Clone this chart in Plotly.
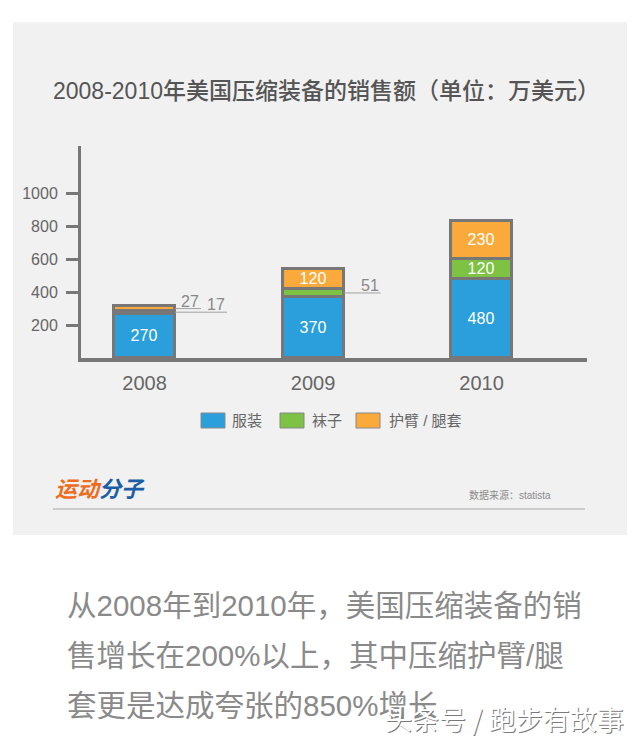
import plotly.graph_objects as go

# ---- data ----
years = ["2008", "2009", "2010"]
apparel = [270, 370, 480]        # 服装
socks = [17, 51, 120]            # 袜子
sleeves = [27, 120, 230]         # 护臂 / 腿套
series_names = ["服装", "袜子", "护臂 / 腿套"]
y_ticks = [200, 400, 600, 800, 1000]

W, H = 640, 743
FONT = "Liberation Sans, Noto Sans CJK SC"
BLUE, GREEN, ORANGE = "#2a9fdb", "#7dc242", "#f9aa3b"
EDGE = "#777777"

def px(x):
    return x / W

def py(y):
    return 1 - y / H

xpos = list(range(len(years)))
bw = 0.362

def lbl(vals, show):
    return [str(v) if s else "" for v, s in zip(vals, show)]

fig = go.Figure()
for vals, name, col, show in [(apparel, series_names[0], BLUE, [1, 1, 1]),
                              (socks, series_names[1], GREEN, [0, 0, 1]),
                              (sleeves, series_names[2], ORANGE, [0, 1, 1])]:
    fig.add_trace(go.Bar(x=xpos, y=vals, name=name, width=bw,
                         marker=dict(color=col, line=dict(color=EDGE, width=3)),
                         text=lbl(vals, show), textposition="inside",
                         insidetextanchor="middle", textangle=0,
                         textfont=dict(color="white", size=16, family=FONT)))

shapes = []
annotations = []

# panel background
shapes.append(dict(type="rect", xref="paper", yref="paper", layer="below",
                   x0=px(13), x1=px(627), y0=py(535), y1=py(22),
                   fillcolor="#f1f1f1", line=dict(width=0)))

x_unit = 168.5  # pixels per x unit
def leader(i, mid, end_px_off, txt):
    x0 = i + bw / 2
    x1 = x0 + end_px_off / x_unit
    shapes.append(dict(type="line", xref="x", yref="y", x0=x0, x1=x1, y0=mid, y1=mid,
                       line=dict(color="#a0a0a0", width=1)))
    annotations.append(dict(xref="x", yref="y", x=x1, y=mid, text=txt, showarrow=False,
                            xanchor="right", yanchor="bottom", yshift=-3,
                            font=dict(size=16, color="#888888", family=FONT)))

leader(0, apparel[0] + socks[0] + sleeves[0] / 2, 26, str(sleeves[0]))
leader(0, apparel[0] + socks[0] / 2, 52, str(socks[0]))
leader(1, apparel[1] + socks[1] / 2, 37, str(socks[1]))

# title
annotations.append(dict(xref="paper", yref="paper", x=px(326), y=py(91),
                        text="2008-2010年美国压缩装备的销售额（单位：万美元）",
                        showarrow=False, xanchor="center", yanchor="middle",
                        font=dict(size=23, color="#555555", family=FONT, weight=500)))

# custom legend
leg = [(201, BLUE, 230), (280, GREEN, 310), (356, ORANGE, 387)]
for (x0, col, tx), name in zip(leg, series_names):
    shapes.append(dict(type="rect", xref="paper", yref="paper",
                       x0=px(x0), x1=px(x0 + 24), y0=py(428), y1=py(413),
                       fillcolor=col, line=dict(color="#888888", width=1)))
    annotations.append(dict(xref="paper", yref="paper", x=px(tx), y=py(420.5),
                            text=name, showarrow=False, xanchor="left", yanchor="middle",
                            font=dict(size=15, color="#666666", family=FONT)))

# logo
annotations.append(dict(xref="paper", yref="paper", x=px(53), y=py(487),
                        text="<b><i><span style='color:#ef6c1e'>运动</span><span style='color:#1b5ea6'>分子</span></i></b>",
                        showarrow=False, xanchor="left", yanchor="middle",
                        font=dict(size=22, family="Noto Sans CJK SC")))
# source
annotations.append(dict(xref="paper", yref="paper", x=px(553), y=py(495),
                        text="数据来源：statista", showarrow=False,
                        xanchor="right", yanchor="middle",
                        font=dict(size=10, color="#8a8a8a", family=FONT)))
shapes.append(dict(type="line", xref="paper", yref="paper",
                   x0=px(53), x1=px(585), y0=py(509), y1=py(509),
                   line=dict(color="#cccccc", width=2)))

# body text
body = ["从2008年到2010年，美国压缩装备的销",
        "售增长在200%以上，其中压缩护臂/腿",
        "套更是达成夸张的850%增长"]
for k, line in enumerate(body):
    annotations.append(dict(xref="paper", yref="paper", x=px(65), y=py(605 + 50 * k),
                            text=line, showarrow=False, xanchor="left", yanchor="middle",
                            font=dict(size=29.5, color="#8a8a8a", family=FONT)))

# watermark (embossed look)
wm = "头条号 / 跑步有故事"
annotations.append(dict(xref="paper", yref="paper", x=px(626), y=py(718),
                        text=wm, showarrow=False, xanchor="right", yanchor="middle",
                        xshift=1.2, yshift=-1.2,
                        font=dict(size=27, color="#7a7a7a", family="Noto Sans CJK SC")))
annotations.append(dict(xref="paper", yref="paper", x=px(626), y=py(718),
                        text=wm, showarrow=False, xanchor="right", yanchor="middle",
                        font=dict(size=27, color="#ffffff", family="Noto Sans CJK SC")))

ymax = (358 - 146) / 0.1645

fig.update_layout(
    width=W, height=H, margin=dict(l=0, r=0, t=0, b=0),
    paper_bgcolor="white", plot_bgcolor="rgba(0,0,0,0)",
    barmode="stack", bargap=0, showlegend=False,
    uniformtext=dict(minsize=15, mode="show"),
    shapes=shapes, annotations=annotations,
    xaxis=dict(domain=[px(81), px(587)], range=[-0.377, 2.626],
               tickvals=xpos, ticktext=years, showgrid=False, zeroline=False,
               showline=True, linecolor=EDGE, linewidth=4, ticks="",
               ticklabelstandoff=4,
               tickfont=dict(size=20, color="#666666", family=FONT), fixedrange=True),
    yaxis=dict(domain=[py(358), py(146)], range=[0, ymax],
               tickvals=y_ticks, showgrid=False, zeroline=False,
               showline=True, linecolor=EDGE, linewidth=3,
               ticks="outside", ticklen=12, tickwidth=3, tickcolor=EDGE,
               ticklabelstandoff=5,
               tickfont=dict(size=16, color="#666666", family=FONT), fixedrange=True),
)

fig.write_html("out.html")
